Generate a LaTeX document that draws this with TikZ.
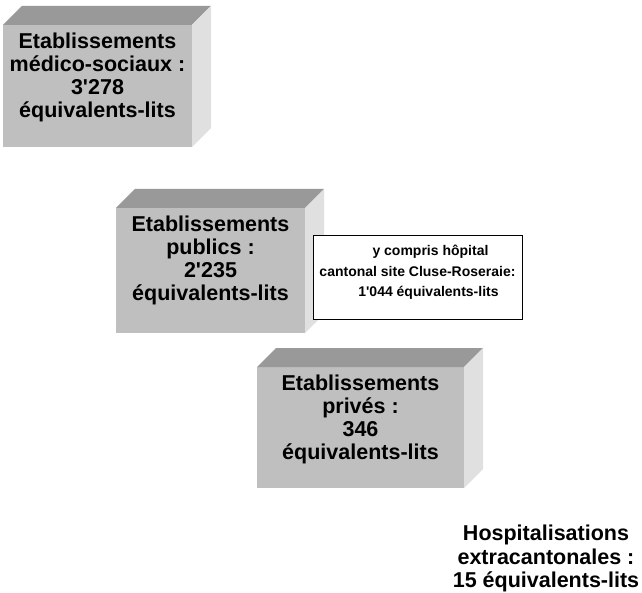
\documentclass[tikz,border=0pt]{standalone}
\usepackage{fontspec}
\setmainfont{Liberation Sans}
\usetikzlibrary{calc}
\usetikzlibrary{positioning}
\definecolor{frontgrey}{gray}{0.75}
\definecolor{topgrey}{gray}{0.6}
\definecolor{sidegrey}{gray}{0.88}
\tikzset{
  myfront/.style={
    fill=frontgrey,
    shape=rectangle,
    inner sep=0pt,
    outer sep=0pt,
    anchor=north west,
  },
  mytop/.style={
    fill=topgrey,
  },
  myside/.style={
    fill=sidegrey,
  },
  mytext/.style={
    align=center,
    inner sep=0pt,
    outer sep=0pt,
    font=\fontsize{21.5}{23.3}\selectfont\bfseries
  },
  mysmalltext/.style={
    align=center,
    inner sep=0pt,
    outer sep=0pt,
    font=\fontsize{14}{20.5}\selectfont\bfseries
  },
  mybox/.style={
    draw=black,
    fill=white,
    line width=0.8pt,
    shape=rectangle,
    inner sep=0pt,
    minimum width=209pt,
    minimum height=84pt,
  }
}

\begin{document}
\begin{tikzpicture}[x=1pt,y=1pt]
    \useasboundingbox (0,0) rectangle (642,-593);

    \node [myfront, minimum width=189pt, minimum height=122pt] (EMS) at (3,-25) {};
    \node [myfront, minimum width=189pt, minimum height=125pt] (Publics) at (116,-208) {};
    \node [myfront, minimum width=207pt, minimum height=121pt] (Prives) at (257,-367) {};

    % top and side faces of the blocks
    \foreach \b in {EMS,Publics,Prives} {
      \fill [mytop] (\b.north west) -- ++(19,19) -- ($(\b.north east)+(19,19)$) -- (\b.north east) -- cycle;
      \fill [myside] (\b.north east) -- ++(19,19) -- ($(\b.south east)+(19,19)$) -- (\b.south east) -- cycle;
    }

    \node [mytext, below=7.5pt of EMS.north] (EMStext) {Etablissements\\médico-sociaux :\\3\textquotesingle278\\équivalents-lits};
    \node [mytext, below=7.5pt of Publics.north] (Publicstext) {Etablissements\\publics :\\2\textquotesingle235\\équivalents-lits};
    \node [mytext, below=7.5pt of Prives.north] (Privestext) {Etablissements\\privés :\\346\\équivalents-lits};

    \node [mybox] (Cluse) at (417.5,-277) {};
    \node [mysmalltext, below=10.5pt of Cluse.north] (Clusetext) {\hspace*{26pt}y compris hôpital\\cantonal site Cluse-Roseraie:\\\hspace*{22pt}1\textquotesingle044 équivalents-lits};

    \node [mytext, anchor=north] (Extra) at (546,-525.3) {Hospitalisations\\extracantonales :\\15 équivalents-lits};
\end{tikzpicture}
\end{document}
